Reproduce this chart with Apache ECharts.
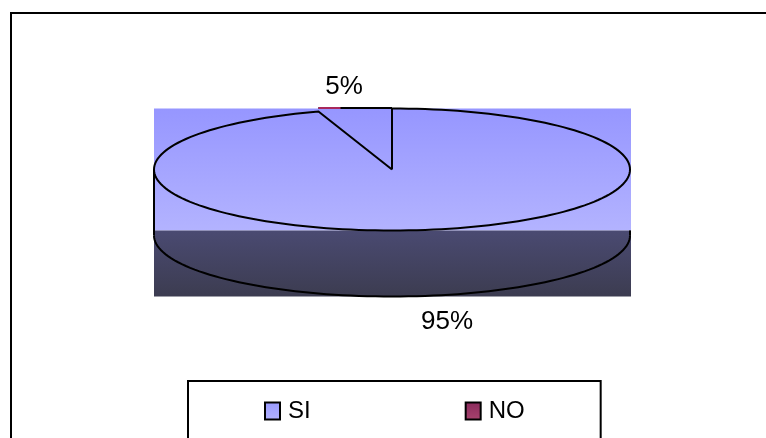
<!DOCTYPE html>
<html><head><meta charset="utf-8">
<style>html,body{margin:0;padding:0;background:#fff}#c{width:766px;height:438px}</style>
<script src="https://cdn.jsdelivr.net/npm/echarts@6/dist/echarts.min.js"></script>
</head><body><div id="c"></div>
<script>
const categories = ['SI', 'NO'];
const values = [95, 5];
const legendFills = [['#b3b3ff', '#9999ff'], ['#a8446f', '#8a2a5c']];

const chart = echarts.init(document.getElementById('c'), null, {renderer: 'canvas'});
const FONT = '"Liberation Sans", Arial, sans-serif';
const cx = 392, cy = 169.5, rx = 238, ry = 61, depth = 66;
const total = values.reduce((a, b) => a + b, 0);
const pt = (deg, dy = 0) => {
  const r = deg * Math.PI / 180;
  return [cx + rx * Math.sin(r), cy - ry * Math.cos(r) + dy];
};
const arc = (a0, a1, dy = 0) => {
  const pts = [];
  const n = Math.max(2, Math.ceil(Math.abs(a1 - a0) / 2));
  for (let i = 0; i <= n; i++) pts.push(pt(a0 + (a1 - a0) * i / n, dy));
  return pts;
};
const LINE = {stroke: '#000', lineWidth: 2, fill: null};
const grad = (a, b) => new echarts.graphic.LinearGradient(0, 0, 0, 1, [{offset: 0, color: a}, {offset: 1, color: b}]);

function renderSI(params, api) {
  const share = api.value(0) / total * 360;
  const children = [
    {type: 'rect', shape: {x: cx - rx, y: cy - ry, width: rx * 2 + 1, height: 122}, style: {fill: grad('#9696ff', '#b3b3ff')}},
    {type: 'rect', shape: {x: cx - rx, y: cy - ry + 122, width: rx * 2 + 1, height: depth}, style: {fill: grad('#4a4a72', '#3c3c50')}},
    {type: 'polyline', shape: {points: arc(90, 270, depth)}, style: LINE},
    {type: 'polyline', shape: {points: [pt(270), pt(270, depth)]}, style: LINE},
    {type: 'polyline', shape: {points: [[cx + rx, cy - ry + 122], pt(90, depth)]}, style: LINE},
    {type: 'polyline', shape: {points: [[cx, cy]].concat(arc(0, share)).concat([[cx, cy]])}, style: LINE},
    {type: 'text', style: {text: api.value(0) + '%', x: 447, y: 322, align: 'center', verticalAlign: 'middle', font: '26px ' + FONT, fill: '#000'}}
  ];
  return {type: 'group', children};
}
function renderNO(params, api) {
  const share = api.value(0) / total * 360;
  const a0 = 360 - share;
  const start = pt(a0);
  const topY = cy - ry - 0.5;
  return {type: 'group', children: [
    {type: 'polyline', shape: {points: [[start[0], topY], [cx, topY]]}, style: LINE},
    {type: 'polyline', shape: {points: [[start[0], topY], [start[0] + (cx - start[0]) * 0.3, topY]]}, style: {stroke: '#a8285c', lineWidth: 2, fill: null}},
    {type: 'text', style: {text: api.value(0) + '%', x: 344, y: 87, align: 'center', verticalAlign: 'middle', font: '26px ' + FONT, fill: '#000'}}
  ]};
}

chart.setOption({
  animation: false,
  backgroundColor: '#fff',
  graphic: [{type: 'rect', z: -1, shape: {x: 11, y: 13, width: 800, height: 480}, style: {fill: '#fff', stroke: '#000', lineWidth: 2}}],
  legend: {
    left: 188, top: 381, itemGap: 154, padding: [18, 76, 30, 76],
    orient: 'horizontal', borderColor: '#000', borderWidth: 2,
    itemWidth: 15, itemHeight: 17, icon: 'rect',
    textStyle: {fontFamily: FONT, fontSize: 24, color: '#000', padding: [5, 0, 0, 3]},
    data: categories.map((n, i) => ({name: n, itemStyle: {color: grad(legendFills[i][1], legendFills[i][0]), borderColor: '#000', borderWidth: 2}}))
  },
  series: [
    {name: categories[0], type: 'custom', coordinateSystem: 'none', data: [[values[0]]], renderItem: renderSI, silent: true},
    {name: categories[1], type: 'custom', coordinateSystem: 'none', data: [[values[1]]], renderItem: renderNO, silent: true}
  ]
});
</script></body></html>
